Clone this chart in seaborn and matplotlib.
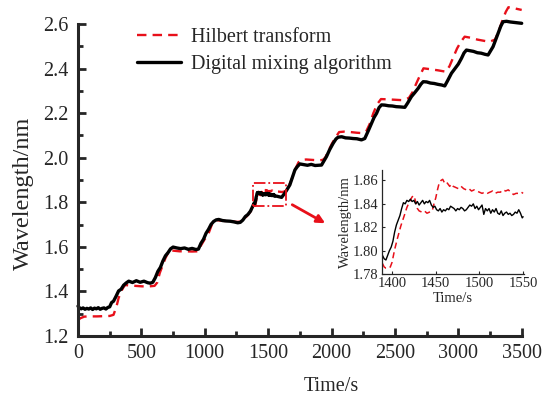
import numpy as np
import pandas as pd
import matplotlib
matplotlib.use("Agg")
import matplotlib.pyplot as plt
from matplotlib.patches import Rectangle
from matplotlib.ticker import MultipleLocator, FormatStrFormatter
import seaborn as sns

# ---------------- data ----------------
# Digital mixing algorithm, main plot (before inset region)
dm_t_a = [0, 10, 25, 40, 55, 70, 85, 100, 115, 130, 145, 160, 175, 190, 205, 220, 235, 250,
          265, 280, 300, 320, 340, 360, 380, 400, 430, 460, 490, 520, 550, 570, 590,
          610, 630, 650, 670, 690, 710, 730, 750, 780, 810, 840, 870, 900, 930, 950,
          970, 990, 1010, 1030, 1050, 1070, 1090, 1110, 1140, 1170, 1200, 1230, 1260, 1280,
          1300, 1320, 1340, 1360, 1375]
dm_y_a = [1.334, 1.327, 1.322, 1.326, 1.320, 1.324, 1.321, 1.326, 1.319, 1.325, 1.322, 1.327, 1.320, 1.324, 1.326, 1.321, 1.328, 1.331,
          1.350, 1.356, 1.378, 1.402, 1.410, 1.428, 1.438, 1.446, 1.440, 1.448, 1.441, 1.446, 1.439, 1.437, 1.441,
          1.462, 1.490, 1.508, 1.537, 1.560, 1.574, 1.591, 1.599, 1.595, 1.592, 1.595, 1.589, 1.593, 1.588, 1.590,
          1.616, 1.634, 1.661, 1.679, 1.701, 1.714, 1.721, 1.723, 1.718, 1.716, 1.715, 1.712, 1.708, 1.710,
          1.720, 1.736, 1.745, 1.760, 1.778]
# Digital mixing algorithm, inset region
dm_t_b = [1389, 1391, 1393, 1395, 1397, 1399, 1401, 1403, 1405, 1407, 1409, 1411, 1413, 1415, 1417, 1419,
          1421, 1423, 1425, 1427, 1429, 1431, 1433, 1435, 1437, 1439, 1441, 1443, 1445, 1447, 1449,
          1451, 1453, 1455, 1457, 1459, 1461, 1463, 1465, 1467, 1469, 1471, 1473, 1475, 1477, 1479,
          1481, 1483, 1485, 1487, 1489, 1491, 1493, 1495, 1497, 1499, 1501, 1503, 1505, 1507, 1509,
          1511, 1513, 1515, 1517, 1519, 1521, 1523, 1525, 1527, 1529, 1531, 1533, 1535, 1537, 1539,
          1541, 1543, 1545, 1547, 1549, 1550]
dm_y_b = [1.796, 1.793, 1.792, 1.796, 1.800, 1.803, 1.808, 1.816, 1.822, 1.826, 1.830, 1.836, 1.841, 1.840, 1.843, 1.842,
          1.844, 1.842, 1.843, 1.840, 1.842, 1.839, 1.841, 1.843, 1.840, 1.842, 1.841, 1.843, 1.839, 1.837, 1.838,
          1.835, 1.834, 1.836, 1.833, 1.835, 1.834, 1.836, 1.835, 1.838, 1.837, 1.836, 1.834, 1.836, 1.835, 1.837,
          1.836, 1.834, 1.835, 1.837, 1.839, 1.838, 1.840, 1.836, 1.838, 1.835, 1.837, 1.839, 1.831, 1.836, 1.834,
          1.836, 1.832, 1.835, 1.833, 1.836, 1.832, 1.831, 1.834, 1.830, 1.832, 1.833, 1.831, 1.832, 1.830, 1.831,
          1.833, 1.832, 1.835, 1.832, 1.828, 1.829]
# Digital mixing algorithm, after inset region
dm_t_c = [1570, 1590, 1606, 1630, 1650, 1671, 1690, 1711, 1730, 1750, 1780, 1810, 1840, 1870, 1900, 1921,
          1940, 1960, 1985, 2013, 2035, 2052, 2080, 2110, 2140, 2170, 2200, 2236, 2262,
          2290, 2315, 2335, 2355, 2375, 2394, 2420, 2450, 2480, 2510, 2540, 2578,
          2600, 2630, 2655, 2683, 2705, 2723, 2750, 2780, 2810, 2840, 2870, 2893,
          2915, 2946, 2975, 3000, 3025, 3045, 3064, 3090, 3120, 3150, 3180, 3210, 3235,
          3255, 3274, 3295, 3314, 3335, 3353, 3380, 3410, 3440, 3470, 3500]
dm_y_c = [1.827, 1.824, 1.822, 1.840, 1.858, 1.878, 1.910, 1.945, 1.960, 1.972, 1.969, 1.966, 1.970, 1.965, 1.966, 1.967,
          1.986, 2.005, 2.036, 2.065, 2.084, 2.092, 2.094, 2.089, 2.088, 2.086, 2.085, 2.080, 2.086,
          2.121, 2.154, 2.180, 2.199, 2.225, 2.237, 2.236, 2.233, 2.232, 2.229, 2.228, 2.226,
          2.245, 2.274, 2.291, 2.311, 2.330, 2.341, 2.340, 2.335, 2.333, 2.329, 2.326, 2.322,
          2.345, 2.379, 2.401, 2.420, 2.446, 2.470, 2.483, 2.480, 2.477, 2.471, 2.469, 2.464, 2.461,
          2.480, 2.498, 2.530, 2.558, 2.590, 2.610, 2.612, 2.609, 2.607, 2.605, 2.603]

# Hilbert transform, main plot (before inset region)
ht_t_a = [0, 20, 50, 100, 150, 200, 250, 280, 303, 320, 340, 360, 373, 400, 450, 500, 550, 604,
          625, 645, 670, 690, 723, 750, 800, 850, 900, 946, 972, 1000, 1025, 1060, 1091,
          1120, 1160, 1200, 1250, 1290, 1320, 1350, 1375]
ht_y_a = [1.272, 1.280, 1.287, 1.288, 1.288, 1.289, 1.290, 1.295, 1.331, 1.370, 1.400, 1.420, 1.429, 1.427, 1.425, 1.423, 1.422, 1.425,
          1.440, 1.483, 1.520, 1.550, 1.586, 1.583, 1.580, 1.580, 1.579, 1.580, 1.608, 1.635, 1.653, 1.706, 1.720,
          1.718, 1.716, 1.715, 1.712, 1.713, 1.730, 1.750, 1.770]
# Hilbert transform, inset region
ht_t_b = [1389, 1391, 1393, 1396, 1398, 1400, 1403, 1406, 1410, 1414, 1417, 1420, 1423, 1425, 1427, 1429,
          1431, 1434, 1437, 1440, 1443, 1446, 1448, 1450, 1452, 1454, 1456, 1458, 1460, 1462, 1464,
          1466, 1468, 1470, 1473, 1476, 1479, 1482, 1485, 1488, 1491, 1494, 1497, 1500, 1503, 1506,
          1509, 1512, 1515, 1518, 1521, 1524, 1527, 1530, 1533, 1536, 1539, 1542, 1545, 1548, 1550]
ht_y_b = [1.789, 1.786, 1.785, 1.785, 1.786, 1.790, 1.801, 1.810, 1.821, 1.830, 1.837, 1.842, 1.846, 1.847, 1.842, 1.836,
          1.834, 1.833, 1.834, 1.832, 1.833, 1.834, 1.840, 1.845, 1.852, 1.858, 1.860, 1.861, 1.858, 1.859, 1.857,
          1.855, 1.857, 1.855, 1.854, 1.853, 1.855, 1.853, 1.852, 1.853, 1.851, 1.852, 1.851, 1.850, 1.849, 1.850,
          1.849, 1.850, 1.851, 1.849, 1.850, 1.850, 1.852, 1.851, 1.852, 1.850, 1.848, 1.849, 1.849, 1.850, 1.849]
# Hilbert transform, after inset region
ht_t_c = [1580, 1610, 1640, 1665, 1690, 1715, 1740, 1760, 1800, 1850, 1900, 1930,
          1950, 1975, 2000, 2030, 2060, 2100, 2150, 2200, 2250, 2275, 2300, 2330, 2360, 2390,
          2440, 2500, 2560, 2610, 2640, 2670, 2700, 2725, 2780, 2840, 2900, 2930,
          2960, 2990, 3020, 3050, 3100, 3150, 3200, 3245, 3290, 3320, 3350, 3375, 3395,
          3420, 3460, 3500]
ht_y_c = [1.848, 1.846, 1.850, 1.875, 1.910, 1.950, 1.980, 1.990, 1.992, 1.990, 1.988, 1.990,
          2.000, 2.030, 2.060, 2.090, 2.115, 2.117, 2.115, 2.112, 2.110, 2.120, 2.150, 2.200, 2.240, 2.263,
          2.262, 2.260, 2.258, 2.268, 2.295, 2.335, 2.372, 2.401, 2.397, 2.392, 2.386, 2.410,
          2.450, 2.490, 2.520, 2.543, 2.538, 2.530, 2.525, 2.520, 2.530, 2.570, 2.620, 2.655, 2.675,
          2.674, 2.668, 2.663]

labels = ["Hilbert transform", "Digital mixing algorithm"]
x_ticks_main = [0, 500, 1000, 1500, 2000, 2500, 3000, 3500]
y_ticks_main = [1.2, 1.4, 1.6, 1.8, 2.0, 2.2, 2.4, 2.6]
x_ticks_inset = [1400, 1450, 1500, 1550]
y_ticks_inset = [1.78, 1.80, 1.82, 1.84, 1.86]
zoom_box = (1380, 1.783, 1638, 1.887)  # t0, y0, t1, y1

dm = pd.DataFrame({"t": dm_t_a + dm_t_b + dm_t_c, "y": dm_y_a + dm_y_b + dm_y_c})
ht = pd.DataFrame({"t": ht_t_a + ht_t_b + ht_t_c, "y": ht_y_a + ht_y_b + ht_y_c})
dm_in = pd.DataFrame({"t": dm_t_b, "y": dm_y_b})
ht_in = pd.DataFrame({"t": ht_t_b, "y": ht_y_b})

# ---------------- style ----------------
sns.set_style("ticks")
plt.rcParams["font.family"] = ["Liberation Serif", "DejaVu Serif"]

RED = "#e8101a"

fig = plt.figure(figsize=(5.44, 3.99), dpi=100)
ax = fig.add_axes([0.1434, 0.1579, 0.8156, 0.7820])

sns.lineplot(data=ht, x="t", y="y", ax=ax, color=RED, lw=1.7, estimator=None, sort=False,
             linestyle=(0, (4, 2.6)), label=labels[0], clip_on=False)
sns.lineplot(data=dm, x="t", y="y", ax=ax, color="black", lw=2.4, estimator=None, sort=False,
             label=labels[1], clip_on=False)

ax.set_xlim(0, 3500)
ax.set_ylim(1.2, 2.6)
ax.set_xticks(x_ticks_main)
ax.set_yticks(y_ticks_main)
ax.xaxis.set_minor_locator(MultipleLocator(250))
ax.yaxis.set_minor_locator(MultipleLocator(0.1))
ax.yaxis.set_major_formatter(FormatStrFormatter("%.1f"))
for s in ["top", "right"]:
    ax.spines[s].set_visible(False)
for s in ["left", "bottom"]:
    ax.spines[s].set_linewidth(2.2)
ax.tick_params(which="major", direction="in", length=6, width=2.0, labelsize=14.5, pad=6)
ax.tick_params(which="minor", direction="in", length=3.5, width=2.0)
ax.tick_params(axis="y", which="major", pad=7)
ax.set_xlabel("Time/s", fontsize=14.5)
ax.set_ylabel("Wavelength/nm", fontsize=17.5)
ax.xaxis.set_label_coords(0.57, -0.13)
ax.yaxis.set_label_coords(-0.10, 0.457)

leg = ax.legend(loc="upper left", bbox_to_anchor=(137 / 544, 1 - 28 / 399), bbox_transform=fig.transFigure,
                frameon=False, fontsize=14.5, handlelength=2.2, handletextpad=0.5, labelspacing=0.4,
                borderpad=0, borderaxespad=0)

# zoom rectangle and arrow
t0, y0, t1, y1 = zoom_box
ax.add_patch(Rectangle((t0, y0), t1 - t0, y1 - y0, fill=False, edgecolor=RED, lw=1.3, ls="-.", zorder=5))
ax.annotate("", xy=(1950, 1.706), xytext=(1690, 1.789),
            arrowprops=dict(arrowstyle="-|>", color=RED, lw=2.0, mutation_scale=12, shrinkA=0, shrinkB=0))

# ---------------- inset ----------------
axi = fig.add_axes([0.7022, 0.3133, 0.2610, 0.2607])
sns.lineplot(data=ht_in, x="t", y="y", ax=axi, color=RED, lw=1.1, estimator=None, sort=False,
             linestyle=(0, (4, 2.5)))
sns.lineplot(data=dm_in, x="t", y="y", ax=axi, color="black", lw=1.0, estimator=None, sort=False)
axi.set_xlim(1388.5, 1551)
axi.set_ylim(1.78, 1.869)
axi.set_xticks(x_ticks_inset)
axi.set_yticks(y_ticks_inset)
axi.yaxis.set_major_formatter(FormatStrFormatter("%.2f"))
for s in ["top", "right"]:
    axi.spines[s].set_visible(False)
for s in ["left", "bottom"]:
    axi.spines[s].set_linewidth(0.9)
axi.tick_params(which="major", direction="in", length=2, width=0.8, labelsize=10.5, pad=2.5)
axi.set_xlabel("Time/s", fontsize=10.5, labelpad=1)
axi.set_ylabel("Wavelength/nm", fontsize=10.5, labelpad=1)
axi.patch.set_alpha(0)

fig.savefig("out.png", dpi=100)
